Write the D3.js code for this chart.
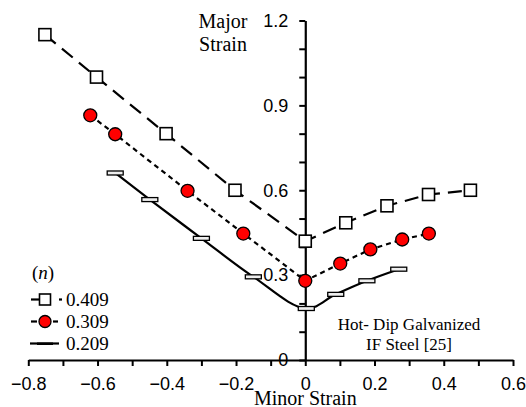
<!DOCTYPE html>
<html>
<head>
<meta charset="utf-8">
<script src="https://cdn.jsdelivr.net/npm/d3@7"></script>
<style>
  html, body { margin: 0; padding: 0; background: #fff; }
  svg { display: block; }
</style>
</head>
<body>
<svg id="chart" width="526" height="407"></svg>
<script>
// ---- data ----
const seriesNames = ["0.409", "0.309", "0.209"];
const x409 = [-0.752, -0.603, -0.402, -0.203, 0.0, 0.117, 0.236, 0.356, 0.477];
const y409 = [1.15, 1.0, 0.80, 0.60, 0.42, 0.485, 0.545, 0.585, 0.60];
const x309 = [-0.621, -0.549, -0.34, -0.179, 0.0, 0.101, 0.188, 0.28, 0.357];
const y309 = [0.865, 0.798, 0.598, 0.447, 0.28, 0.341, 0.391, 0.426, 0.447];
const x209 = [-0.549, -0.449, -0.30, -0.15, 0.003, 0.088, 0.178, 0.27];
const y209 = [0.661, 0.567, 0.43, 0.294, 0.182, 0.232, 0.28, 0.321];
const xTicks = [-0.8, -0.7, -0.6, -0.5, -0.4, -0.3, -0.2, -0.1, 0, 0.1, 0.2, 0.3, 0.4, 0.5, 0.6];
const xTickLabels = ["\u22120.8", "", "\u22120.6", "", "\u22120.4", "", "\u22120.2", "", "0", "", "0.2", "", "0.4", "", "0.6"];
const yTicks = [0, 0.1, 0.2, 0.3, 0.4, 0.5, 0.6, 0.7, 0.8, 0.9, 1.0, 1.1, 1.2];
const yTickLabels = ["0", "", "", "0.3", "", "", "0.6", "", "", "0.9", "", "", "1.2"];

const svg = d3.select("#chart");
const x = d3.scaleLinear().domain([-0.8, 0.6]).range([28.3, 513]);
const y = d3.scaleLinear().domain([0, 1.2]).range([360, 20.5]);

const sansFont = "'Liberation Sans', Arial, sans-serif";
const serifFont = "'Liberation Serif', 'Times New Roman', serif";

// ---- axes ----
const xAxis = d3.axisBottom(x).tickValues(xTicks).tickSize(6).tickSizeOuter(0).tickPadding(11)
  .tickFormat((d, i) => xTickLabels[i]);
const gx = svg.append("g").attr("transform", `translate(0,${y(0)})`).call(xAxis);

const yAxis = d3.axisLeft(y).tickValues(yTicks).tickSize(6).tickSizeOuter(0).tickPadding(11)
  .tickFormat((d, i) => yTickLabels[i]);
const gy = svg.append("g").attr("transform", `translate(${x(0)},0)`).call(yAxis);

[gx, gy].forEach(g => {
  g.select(".domain").attr("stroke", "#000").attr("stroke-width", 2.2);
  g.selectAll(".tick line").attr("stroke", "#000").attr("stroke-width", 2);
  g.selectAll(".tick text").attr("fill", "#000")
    .style("font-family", sansFont).style("font-size", "18px");
});

// axis titles
svg.append("text").attr("x", x(0)).attr("y", 405).attr("text-anchor", "middle")
  .style("font-family", serifFont).style("font-size", "20px").attr("fill", "#000")
  .text("Minor Strain");
const yt = svg.append("text").attr("x", 223).attr("y", 28).attr("text-anchor", "middle")
  .style("font-family", serifFont).style("font-size", "20px").attr("fill", "#000");
yt.append("tspan").attr("x", 223).attr("dy", 0).text("Major");
yt.append("tspan").attr("x", 223).attr("dy", 23).text("Strain");

// ---- series ----
const zip = (xs, ys) => xs.map((v, i) => [v, ys[i]]);
const d409 = zip(x409, y409), d309 = zip(x309, y309), d209 = zip(x209, y209);

const lineLin = d3.line().x(d => x(d[0])).y(d => y(d[1]));
const lineSmooth = d3.line().x(d => x(d[0])).y(d => y(d[1])).curve(d3.curveCatmullRom.alpha(0.5));

svg.append("path").datum(d209).attr("d", lineSmooth)
  .attr("fill", "none").attr("stroke", "#000").attr("stroke-width", 2.2);
svg.append("path").datum(d309).attr("d", lineLin)
  .attr("fill", "none").attr("stroke", "#000").attr("stroke-width", 2.2)
  .attr("stroke-dasharray", "5,4");
svg.append("path").datum(d409).attr("d", lineLin)
  .attr("fill", "none").attr("stroke", "#000").attr("stroke-width", 2.2)
  .attr("stroke-dasharray", "14,8");

// markers
const sq = 12;
svg.selectAll(".m409").data(d409).enter().append("rect")
  .attr("x", d => x(d[0]) - sq / 2).attr("y", d => y(d[1]) - sq / 2)
  .attr("width", sq).attr("height", sq)
  .attr("fill", "#fff").attr("stroke", "#000").attr("stroke-width", 1.6);
svg.selectAll(".m309").data(d309).enter().append("circle")
  .attr("cx", d => x(d[0])).attr("cy", d => y(d[1])).attr("r", 6.5)
  .attr("fill", "#ff0000").attr("stroke", "#000").attr("stroke-width", 1.3);
svg.selectAll(".m209").data(d209).enter().append("rect")
  .attr("x", d => x(d[0]) - 8).attr("y", d => y(d[1]) - 2)
  .attr("width", 16).attr("height", 4)
  .attr("fill", "#eeeeee").attr("stroke", "#000").attr("stroke-width", 1.3);

// ---- legend ----
svg.append("text").attr("x", 32).attr("y", 279)
  .style("font-family", serifFont).style("font-size", "19px").attr("fill", "#000")
  .html("(<tspan font-style='italic'>n</tspan>)");
const legRows = [299.5, 321.5, 343.5];
// row 1
svg.append("line").attr("x1", 31).attr("x2", 40).attr("y1", legRows[0]).attr("y2", legRows[0])
  .attr("stroke", "#000").attr("stroke-width", 2.2);
svg.append("line").attr("x1", 59).attr("x2", 62).attr("y1", legRows[0]).attr("y2", legRows[0])
  .attr("stroke", "#000").attr("stroke-width", 2.2);
svg.append("rect").attr("x", 39.5).attr("y", legRows[0] - 5.5).attr("width", 11).attr("height", 11)
  .attr("fill", "#fff").attr("stroke", "#000").attr("stroke-width", 1.6);
// row 2
svg.append("line").attr("x1", 31).attr("x2", 37).attr("y1", legRows[1]).attr("y2", legRows[1])
  .attr("stroke", "#000").attr("stroke-width", 2.2);
svg.append("line").attr("x1", 53).attr("x2", 58).attr("y1", legRows[1]).attr("y2", legRows[1])
  .attr("stroke", "#000").attr("stroke-width", 2.2);
svg.append("circle").attr("cx", 45).attr("cy", legRows[1]).attr("r", 6)
  .attr("fill", "#ff0000").attr("stroke", "#000").attr("stroke-width", 1.3);
// row 3
svg.append("line").attr("x1", 30).attr("x2", 59).attr("y1", legRows[2]).attr("y2", legRows[2])
  .attr("stroke", "#000").attr("stroke-width", 2.2);
svg.append("rect").attr("x", 37).attr("y", legRows[2] - 1).attr("width", 16).attr("height", 2.5)
  .attr("fill", "#000");
seriesNames.forEach((n, i) => {
  svg.append("text").attr("x", 66).attr("y", legRows[i] + 6.5)
    .style("font-family", serifFont).style("font-size", "19px").attr("fill", "#000")
    .text(n);
});

// ---- annotation ----
const ann = svg.append("text").attr("text-anchor", "middle")
  .style("font-family", serifFont).style("font-size", "17px").attr("fill", "#000");
ann.append("tspan").attr("x", 409).attr("y", 330).text("Hot- Dip Galvanized");
ann.append("tspan").attr("x", 409).attr("y", 350).text("IF Steel [25]");
</script>
</body>
</html>
